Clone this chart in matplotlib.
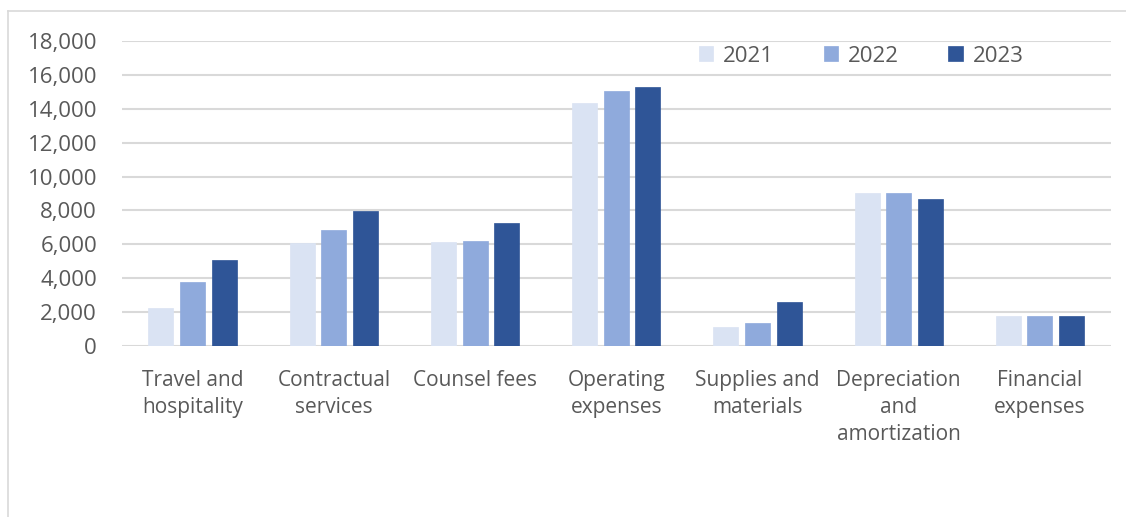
import matplotlib
matplotlib.use("Agg")
import matplotlib.pyplot as plt
import numpy as np
from matplotlib.lines import Line2D
from matplotlib.ticker import FuncFormatter

categories = ["Travel and\nhospitality", "Contractual\nservices", "Counsel fees",
              "Operating\nexpenses", "Supplies and\nmaterials",
              "Depreciation\nand\namortization", "Financial\nexpenses"]
years = ["2021", "2022", "2023"]
v2021 = [2250, 6050, 6120, 14350, 1100, 9050, 1790]
v2022 = [3800, 6850, 6200, 15070, 1340, 9050, 1750]
v2023 = [5050, 7950, 7280, 15270, 2620, 8660, 1770]
colors = ["#DAE3F3", "#8FAADC", "#2F5597"]
yticks = list(range(0, 18001, 2000))

plt.rcParams['font.family'] = ['Open Sans', 'DejaVu Sans']
W, H = 1126, 517
fig = plt.figure(figsize=(W / 100, H / 100), dpi=100)
ax = fig.add_axes([122 / W, 1 - 346 / H, (1110.5 - 122) / W, (346 - 41) / H])

x = np.arange(len(categories))
bw = 0.177
pitch = 0.224
for i, (vals, c, yr) in enumerate(zip([v2021, v2022, v2023], colors, years)):
    ax.bar(x + (i - 1) * pitch, vals, width=bw, color=c, label=yr, zorder=3,
           edgecolor=c, linewidth=0.5)

ax.set_xlim(-0.5, len(categories) - 0.5)
ax.set_ylim(0, 18000)
ax.set_yticks(yticks)
ax.yaxis.set_major_formatter(FuncFormatter(lambda v, p: f"{int(v):,}"))
ax.grid(axis='y', color='#D9D9D9', linewidth=1.5, zorder=0)
ax.set_axisbelow(True)
for s in ax.spines.values():
    s.set_visible(False)
ax.tick_params(axis='y', length=0, labelsize=16, colors='#595959', pad=18)
ax.tick_params(axis='x', length=0, labelsize=15, colors='#595959', pad=17)
ax.set_xticks(x)
ax.set_xticklabels(categories, linespacing=1.4)

leg = ax.legend(loc='center left', bbox_to_anchor=((690 - 122) / (1110.5 - 122), 1 - (56 - 41) / 305),
                ncol=3, frameon=False, fontsize=16, labelcolor='#595959',
                handlelength=0.65, handleheight=0.65, handletextpad=0.45,
                columnspacing=2.22, borderaxespad=0)

# outer chart border (top and left)
fig.add_artist(Line2D([8 / W, 8 / W], [0, 1 - 11 / H], transform=fig.transFigure,
                      color='#D9D9D9', linewidth=1.2))
fig.add_artist(Line2D([8 / W, 1], [1 - 11 / H, 1 - 11 / H], transform=fig.transFigure,
                      color='#D9D9D9', linewidth=1.2))

fig.savefig("out.png", dpi=100)
